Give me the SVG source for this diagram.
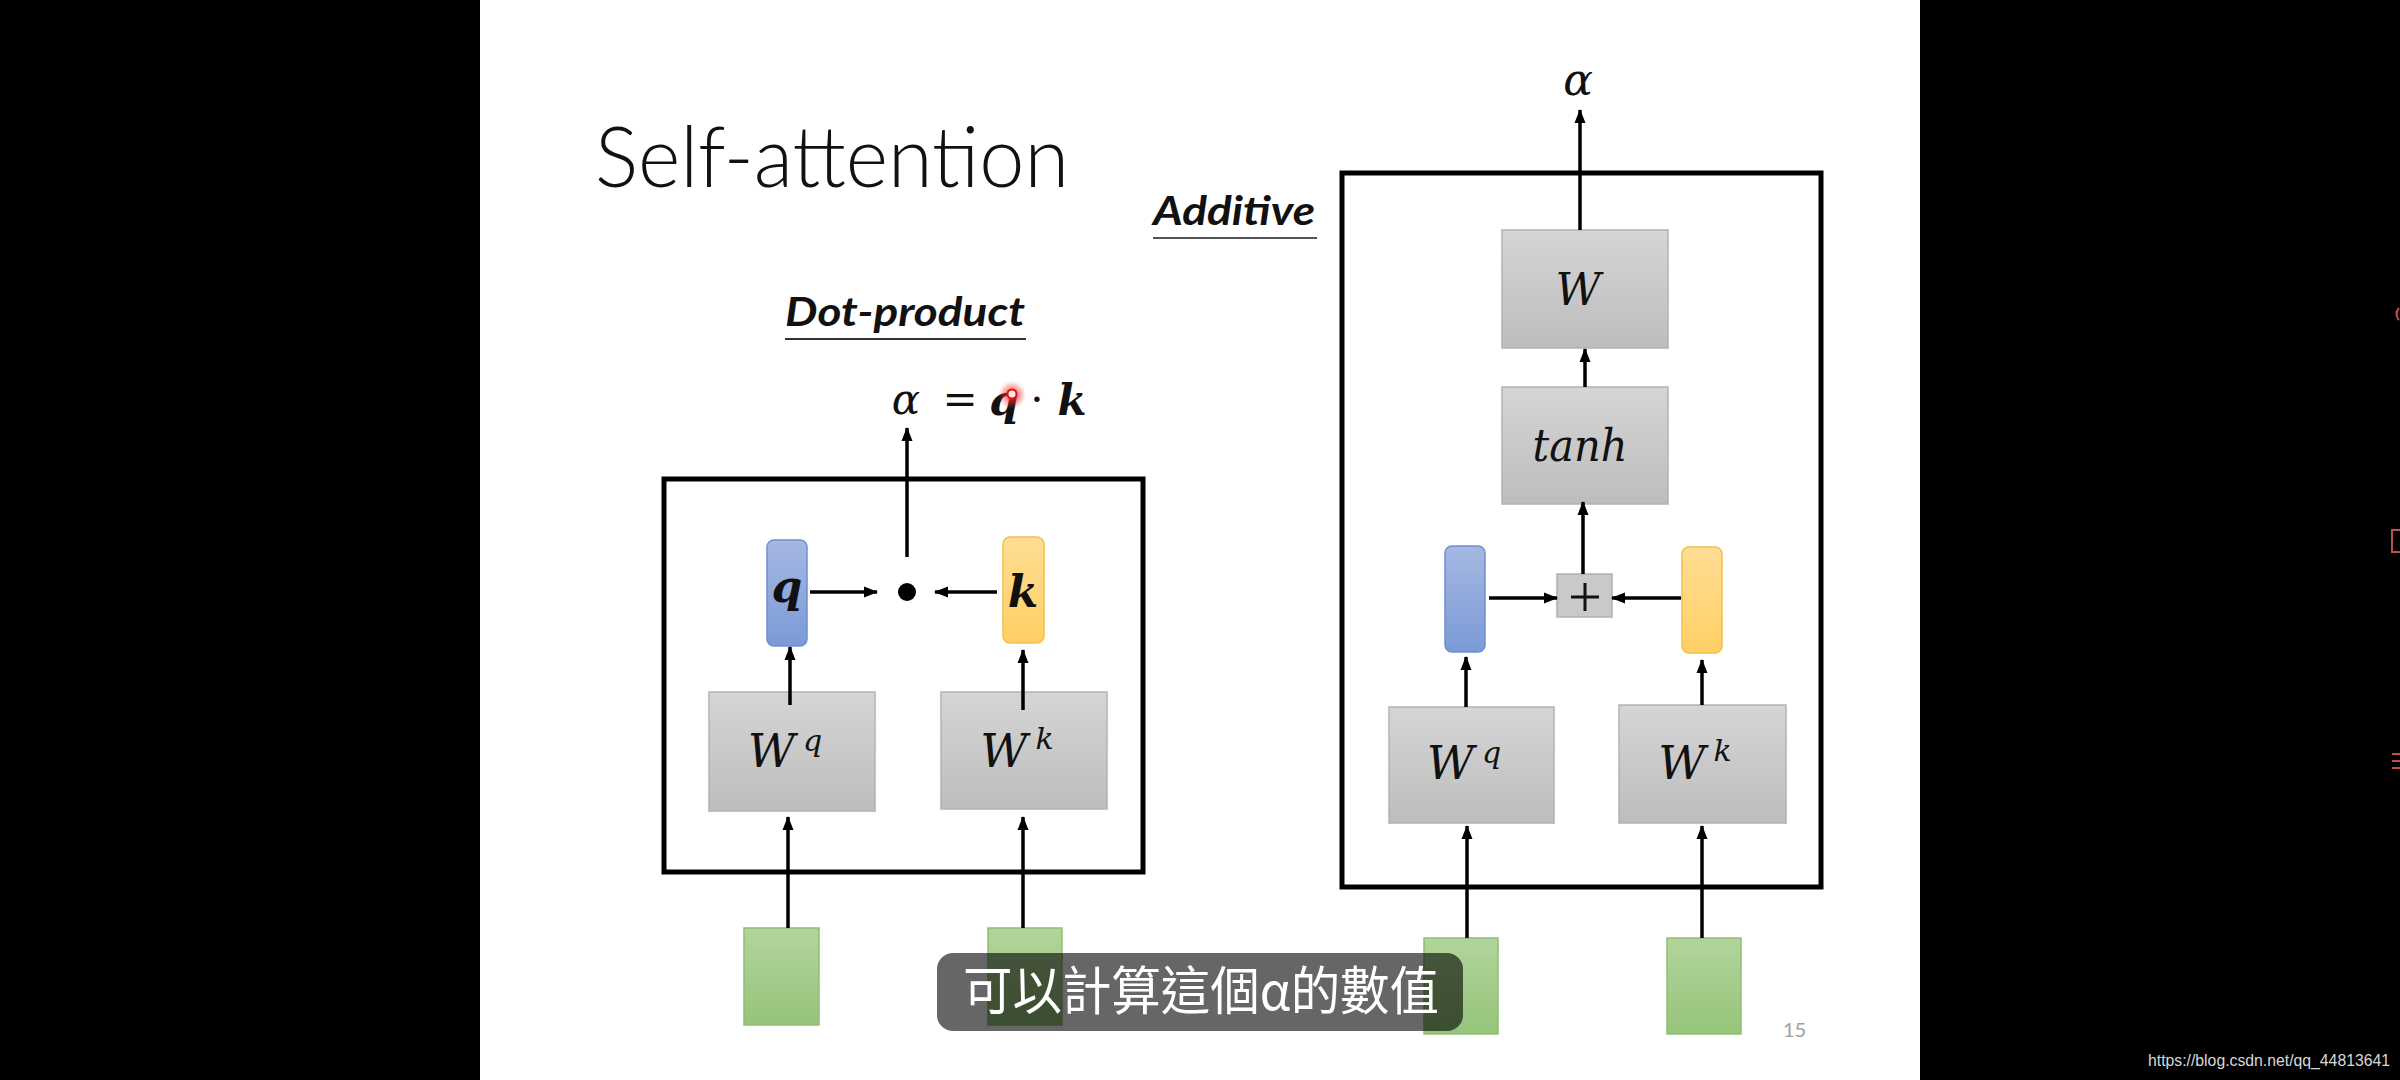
<svg xmlns="http://www.w3.org/2000/svg" width="2400" height="1080" viewBox="0 0 2400 1080">
<style>
.math{font-family:"DejaVu Serif","Liberation Serif",serif;font-style:italic;fill:#111}
.bmath{font-family:"DejaVu Serif","Liberation Serif",serif;font-style:italic;font-weight:bold;fill:#111}
.head{font-family:Lato,"Open Sans","Liberation Sans",sans-serif;font-style:italic;font-weight:bold;font-size:40px;fill:#111}
.title{font-family:Lato,"Open Sans","Liberation Sans",sans-serif;font-weight:300;font-size:84px;fill:#111}
.frame{fill:none;stroke:#000;stroke-width:5}
.gray{fill:url(#gGray);stroke:#b3b3b3;stroke-width:1.5}
.blue{fill:url(#gBlue);stroke:#6e8fd0;stroke-width:1.5}
.orange{fill:url(#gOrange);stroke:#f2c04c;stroke-width:1.5}
.green{fill:url(#gGreen);stroke:#8fbf72;stroke-width:1.5}
.conn path{fill:none;stroke:#000;stroke-width:3.5;marker-end:url(#ah)}
</style>
<defs>
<linearGradient id="gGray" x1="0" y1="0" x2="0" y2="1"><stop offset="0" stop-color="#d5d5d5"/><stop offset="1" stop-color="#bdbdbd"/></linearGradient>
<linearGradient id="gBlue" x1="0" y1="0" x2="0" y2="1"><stop offset="0" stop-color="#a5b8e2"/><stop offset="1" stop-color="#7b9ad6"/></linearGradient>
<linearGradient id="gOrange" x1="0" y1="0" x2="0" y2="1"><stop offset="0" stop-color="#ffdd94"/><stop offset="1" stop-color="#ffd064"/></linearGradient>
<linearGradient id="gGreen" x1="0" y1="0" x2="0" y2="1"><stop offset="0" stop-color="#b2d49c"/><stop offset="1" stop-color="#96c47a"/></linearGradient>
<radialGradient id="gLaser"><stop offset="0" stop-color="#ff2020" stop-opacity="0.9"/><stop offset="0.5" stop-color="#ff3030" stop-opacity="0.5"/><stop offset="1" stop-color="#ff4040" stop-opacity="0"/></radialGradient>
<marker id="ah" markerUnits="userSpaceOnUse" markerWidth="14" markerHeight="14" viewBox="0 0 14 14" refX="13" refY="7" orient="auto"><path d="M0,1.5 L14,7 L0,12.5 z" fill="#000"/></marker>
</defs>

<rect x="0" y="0" width="2400" height="1080" fill="#000"/>
<rect x="480" y="0" width="1440" height="1080" fill="#fff"/>

<text class="title" x="595" y="187" textLength="474" lengthAdjust="spacingAndGlyphs">Self-attention</text>

<g id="label-dot-product">
<text class="head" x="785" y="326" textLength="240" lengthAdjust="spacingAndGlyphs">Dot-product</text>
<line x1="785" y1="339" x2="1026" y2="339" stroke="#333" stroke-width="2"/>
</g>
<g id="label-additive">
<text class="head" x="1153" y="225" textLength="162" lengthAdjust="spacingAndGlyphs">Additive</text>
<line x1="1153" y1="238" x2="1317" y2="238" stroke="#555" stroke-width="2"/>
</g>

<g id="formula">
<text class="math" x="906" y="414" font-size="42" text-anchor="middle">α</text>
<text x="960" y="414" font-size="42" text-anchor="middle" font-family="DejaVu Serif, serif" fill="#111">=</text>
<text class="bmath" x="1004" y="415" font-size="42" text-anchor="middle">q</text>
<text x="1037" y="414" font-size="42" text-anchor="middle" font-family="DejaVu Serif, serif" fill="#111">·</text>
<text class="bmath" x="1072" y="415" font-size="42" text-anchor="middle">k</text>
<circle cx="1012" cy="395" r="14" fill="url(#gLaser)"/>
<circle cx="1012" cy="394" r="4.5" fill="#ffe8e8" stroke="#e01010" stroke-width="2"/>
</g>

<g id="dot-frame"><rect class="frame" x="664" y="479" width="479" height="393"/></g>
<g id="dot-q"><rect class="blue" x="767" y="540" width="40" height="106" rx="7"/><text class="bmath" x="787" y="602" font-size="44" text-anchor="middle">q</text></g>
<g id="dot-k"><rect class="orange" x="1003" y="537" width="41" height="106" rx="7"/><text class="bmath" x="1023" y="607" font-size="44" text-anchor="middle">k</text></g>
<g id="dot-op"><circle cx="907" cy="592" r="9" fill="#000"/></g>
<g id="dot-Wq"><rect class="gray" x="709" y="692" width="166" height="119"/><text class="math" x="785" y="767" font-size="46" text-anchor="middle">W<tspan font-size="30" dy="-16" dx="8">q</tspan></text></g>
<g id="dot-Wk"><rect class="gray" x="941" y="692" width="166" height="117"/><text class="math" x="1017" y="767" font-size="46" text-anchor="middle">W<tspan font-size="30" dy="-18" dx="8">k</tspan></text></g>
<g id="dot-x1"><rect class="green" x="744" y="928" width="75" height="97"/></g>
<g id="dot-x2"><rect class="green" x="988" y="928" width="74" height="97"/></g>

<g id="add-alpha"><text class="math" x="1578" y="95" font-size="44" text-anchor="middle">α</text></g>
<g id="add-frame"><rect class="frame" x="1342" y="173" width="479" height="714"/></g>
<g id="add-W"><rect class="gray" x="1502" y="230" width="166" height="118"/><text class="math" x="1578" y="305" font-size="44" text-anchor="middle">W</text></g>
<g id="add-tanh"><rect class="gray" x="1502" y="387" width="166" height="117"/><text class="math" x="1580" y="461" font-size="44" text-anchor="middle" textLength="95" lengthAdjust="spacingAndGlyphs">tanh</text></g>
<g id="add-plus"><rect x="1557" y="574" width="55" height="43" fill="#c9c9c9" stroke="#b0b0b0" stroke-width="1.5"/><path d="M1571,597 H1599 M1585,583 V611" stroke="#111" stroke-width="3" fill="none"/></g>
<g id="add-q"><rect class="blue" x="1445" y="546" width="40" height="106" rx="7"/></g>
<g id="add-k"><rect class="orange" x="1682" y="547" width="40" height="106" rx="7"/></g>
<g id="add-Wq"><rect class="gray" x="1389" y="707" width="165" height="116"/><text class="math" x="1464" y="779" font-size="46" text-anchor="middle">W<tspan font-size="30" dy="-16" dx="8">q</tspan></text></g>
<g id="add-Wk"><rect class="gray" x="1619" y="705" width="167" height="118"/><text class="math" x="1695" y="779" font-size="46" text-anchor="middle">W<tspan font-size="30" dy="-18" dx="8">k</tspan></text></g>
<g id="add-x1"><rect class="green" x="1424" y="938" width="74" height="96"/></g>
<g id="add-x2"><rect class="green" x="1667" y="938" width="74" height="96"/></g>

<g id="connectors" class="conn">
<path d="M907,557 V428"/>
<path d="M810,592 H877"/>
<path d="M997,592 H935"/>
<path d="M790,705 V647"/>
<path d="M1023,710 V650"/>
<path d="M788,928 V817"/>
<path d="M1023,928 V817"/>
<path d="M1580,230 V110"/>
<path d="M1585,387 V349"/>
<path d="M1583,574 V502"/>
<path d="M1489,598 H1557"/>
<path d="M1681,598 H1612"/>
<path d="M1466,707 V657"/>
<path d="M1702,705 V660"/>
<path d="M1467,938 V826"/>
<path d="M1702,938 V826"/>
</g>

<text x="1783" y="1037" font-family="Lato, 'Liberation Sans', sans-serif" font-size="20" fill="#a0a0a0">15</text>

<g id="subtitle">
<rect x="937" y="953" width="526" height="78" rx="16" fill="#000" fill-opacity="0.6"/>
<text x="963" y="1010" font-family="'Noto Sans CJK TC','Noto Sans CJK SC',sans-serif" font-size="52" fill="#fff" textLength="476" lengthAdjust="spacingAndGlyphs">可以計算這個α的數值</text>
</g>

<g id="edge-ui" fill="none" stroke="#c0504d" stroke-width="2">
<path d="M2399,308 Q2394,314 2399,320"/>
<path d="M2400,530 H2392 V552 H2400"/>
<path d="M2392,754 H2400 M2392,761 H2400 M2392,768 H2400"/>
</g>
<text x="2148" y="1066" font-family="'Liberation Sans', Arial, sans-serif" font-size="16" fill="#d8d8d8" textLength="242" lengthAdjust="spacingAndGlyphs">https://blog.csdn.net/qq_44813641</text>
</svg>
